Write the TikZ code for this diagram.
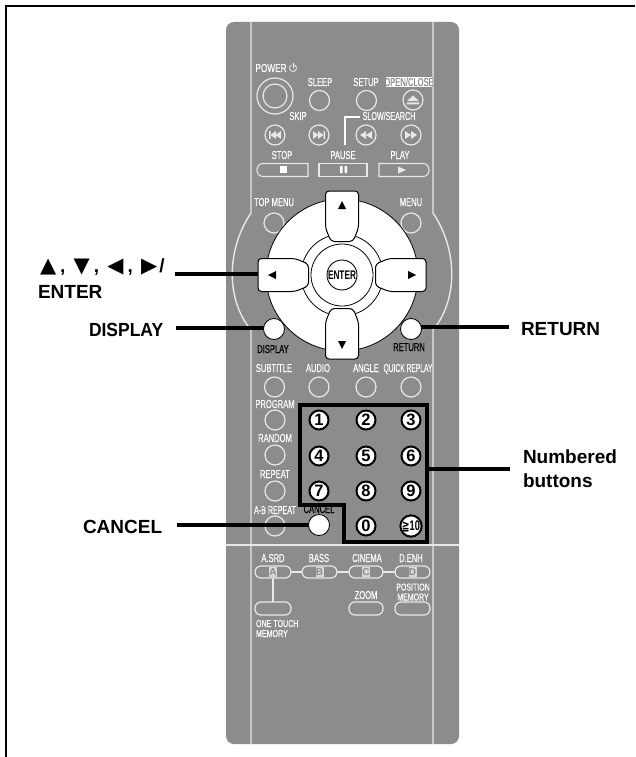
\documentclass[tikz,border=0pt]{standalone}
\usepackage{fontspec}
\setmainfont{Liberation Sans}
\newfontfamily\symfont{DejaVu Sans}
\newfontfamily\remfont[FakeBold=0.35]{Liberation Sans}
\definecolor{body}{HTML}{8C8C8C}
\definecolor{rline}{HTML}{E8E8E8}
\newcommand\rt[1]{\scalebox{.66}[1]{#1}}
\newcommand\rn[1]{\scalebox{.58}[1]{#1}}
\tikzset{
  frameline/.style={line width=2pt,black},
  leader/.style={line width=3.6pt,black},
  rlab/.style={inner sep=0pt,outer sep=0pt,anchor=base,text=white,font=\fontsize{11.5}{11.5}\selectfont\remfont},
  blab/.style={rlab,text=black},
  biglab/.style={inner sep=0pt,outer sep=0pt,anchor=base west,text=black,font=\fontsize{19}{19}\selectfont\bfseries},
  ring/.style={circle,draw=rline,line width=1.2pt,minimum size=20pt,inner sep=0pt},
  whitebtn/.style={circle,draw=black,fill=white,line width=.8pt,minimum size=21pt,inner sep=0pt},
  numbtn/.style={circle,draw=black,fill=white,line width=2pt,minimum size=19pt,inner sep=0pt,text=black,font=\fontsize{16.5}{16.5}\selectfont\bfseries},
  pill/.style={draw=rline,line width=1.2pt,rounded corners=6pt},
  rwhite/.style={draw=rline,line width=1.4pt},
  keyshape/.style={draw=black,fill=white,line width=1pt,rounded corners=3.5pt},
  letterbox/.style={fill=rline!93!black,inner sep=0pt,minimum width=8pt,minimum height=10pt,text=body,font=\fontsize{10}{10}\selectfont\bfseries},
}
\begin{document}
\begin{tikzpicture}[x=1pt,y=-1pt]
\useasboundingbox (0,0) rectangle (635,757);
\fill[white] (0,0) rectangle (635,757);
% page frame
\draw[frameline] (635,6.5) -- (6,6.5) -- (6,757);
% remote body
\fill[body,rounded corners=8pt] (226,22) rectangle (459,744);
% body lines
\draw[rwhite] (251,22) -- (251,213) .. controls (226,250) and (226,300) .. (251,330) -- (251,744);
\draw[rwhite] (433,22) -- (433,213) .. controls (458,250) and (458,300) .. (433,330) -- (433,744);
\draw[rwhite] (226,545) -- (459,545);
% top section
\node[rlab] (lPower) at (271,72) {\scalebox{.72}[1]{POWER}};
\draw[white,line width=.7pt] (294.75,65) arc[start angle=-60,end angle=240,radius=3.5];
\draw[white,line width=.7pt] (293,63) -- (293,68);
\node[circle,draw=rline,line width=1.2pt,minimum size=36pt,inner sep=0pt] (bPowerO) at (275,96) {};
\node[circle,draw=rline,line width=1.2pt,minimum size=24pt,inner sep=0pt] (bPowerI) at (275,96) {};
\node[rlab] (lSleep) at (320,86) {\rt{SLEEP}};
\node[ring] (bSleep) at (319.5,100.5) {};
\node[rlab] (lSetup) at (366,86) {\rt{SETUP}};
\node[ring] (bSetup) at (366.5,100.5) {};
\fill[white] (386,77) rectangle (432,87);
\node[rlab,text=body] (lOpen) at (409,86) {\rt{OPEN/CLOSE}};
\node[ring] (bOpen) at (413,100) {};
\fill[rline] (407,101) -- (413,95.5) -- (419,101) -- cycle (407,102.5) rectangle (419,104.5);
\node[rlab] (lSkip) at (298,120) {\rt{SKIP}};
\node[rlab] (lSlow) at (389,120) {\scalebox{.62}[1]{SLOW/SEARCH}};
\draw[white,line width=2pt] (345,145) -- (345,117) -- (360,117);
\node[ring] (bPrev) at (275,135) {};
\node[ring] (bNext) at (319,135) {};
\node[ring] (bRew) at (366,135) {};
\node[ring] (bFwd) at (411,135) {};
\fill[rline] (269,131) rectangle (270.5,139) (276,131) -- (276,139) -- (270.5,135) -- cycle (281,131) -- (281,139) -- (275.5,135) -- cycle;
\fill[rline] (325,131) rectangle (323.5,139) (318,131) -- (318,139) -- (323.5,135) -- cycle (313,131) -- (313,139) -- (318.5,135) -- cycle;
\fill[rline] (366,131) -- (366,139) -- (360,135) -- cycle (372,131) -- (372,139) -- (366,135) -- cycle;
\fill[rline] (411,131) -- (411,139) -- (417,135) -- cycle (405,131) -- (405,139) -- (411,135) -- cycle;
\node[rlab] (lStop) at (282,159) {\rt{STOP}};
\node[rlab] (lPause) at (343,159) {\rt{PAUSE}};
\node[rlab] (lPlay) at (400,159) {\rt{PLAY}};
\draw[rwhite,line width=1.1pt] (308,163.5) -- (263,163.5) .. controls (255,163.5) and (255,176.5) .. (263,176.5) -- (308,176.5) -- cycle;
\draw[rwhite,line width=1.1pt] (319,163.5) rectangle (367,176.5);
\draw[rwhite,line width=1.1pt] (379,163.5) -- (423,163.5) .. controls (431,163.5) and (431,176.5) .. (423,176.5) -- (379,176.5) -- cycle;
\fill[white] (280,166) rectangle (287,173);
\fill[white] (340,166) rectangle (342.5,173) (344.5,166) rectangle (347,173);
\fill[rline] (398,166.5) -- (398,173.5) -- (406,170) -- cycle;
% D-pad
\node[rlab] (lTop) at (274,206) {\rt{TOP MENU}};
\node[rlab] (lMenu) at (411,206) {\rt{MENU}};
\node[ring] (bTop) at (274,223) {};
\node[ring] (bMenu) at (411,223) {};
\coordinate (endArrow) at (175,274);
\coordinate (endDisplay) at (176,328);
\coordinate (endReturn) at (509,327);
\coordinate (endNum) at (510,469);
\coordinate (endCancel) at (177,525);
\node[circle,draw=black,fill=white,line width=.8pt,minimum size=152pt,inner sep=0pt] (dpad) at (342,275) {};
\node[circle,draw=black,line width=.8pt,minimum size=82pt,inner sep=0pt] (ring1) at (342,275) {};
\node[circle,draw=black,line width=.8pt,minimum size=62pt,inner sep=0pt] (ring2) at (342,275) {};
\node[circle,draw=black,line width=.9pt,minimum size=30pt,inner sep=0pt,font=\fontsize{12.5}{12.5}\selectfont\bfseries] (bEnter) at (342,275) {\rt{ENTER}};
\foreach \a in {0,90,180,270}{
  \begin{scope}[rotate around={\a:(342,275)}]
    \draw[keyshape] (325.5,191) -- (358.5,191) -- (358.5,228) -- (353,241.5) -- (331,241.5) -- (325.5,228) -- cycle;
    \fill[black] (338,209) -- (346,209) -- (342,201) -- cycle;
  \end{scope}
}
\coordinate (keyLeft) at (258,274);
\draw[leader] (endArrow) -- (keyLeft);
\draw[leader] (endDisplay) -- (274,328);
\draw[leader] (endReturn) -- (411,327);
\node[whitebtn] (bDisplay) at (274,329) {};
\node[whitebtn] (bReturn) at (411,329) {};
\node[blab] (lDisp) at (273,353) {\rt{DISPLAY}};
\node[blab] (lRet) at (409,351) {\rt{RETURN}};
% row of four
\node[rlab] (lSub) at (274,372) {\rt{SUBTITLE}};
\node[rlab] (lAudio) at (318,372) {\rt{AUDIO}};
\node[rlab] (lAngle) at (366,372) {\rt{ANGLE}};
\node[rlab] (lQuick) at (408,372) {\rn{QUICK REPLAY}};
\foreach \n/\x in {bSub/274.5,bAudio/319,bAngle/366,bQuick/411}{
  \node[ring] (\n) at (\x,387) {};
}
% left column
\node[rlab] (lProg) at (275,408) {\rt{PROGRAM}};
\node[rlab] (lRand) at (275,442) {\rt{RANDOM}};
\node[rlab] (lRep) at (275,478) {\rt{REPEAT}};
\node[rlab] (lAB) at (275,514) {\scalebox{.62}[1]{A-B REPEAT}};
\foreach \n/\y in {bProg/420,bRand/455,bRep/491,bAB/526}{
  \node[ring] (\n) at (275,\y) {};
}
% numbered buttons
\draw[line width=3.6pt,black,miter limit=10] (300,405) -- (427,405) -- (427,542) -- (344,542) -- (344,505) -- (300,505) -- cycle;
\draw[leader] (endNum) -- (427,469);
\foreach \t/\x/\y in {1/319/420,2/366/420,3/411/420,4/319/456,5/366/456,6/411/456,7/319/491,8/366/491,9/411/491,0/366/526}{
  \node[numbtn] (n\t) at (\x,\y) {\t};
}
\node[numbtn,font=\fontsize{14}{14}\selectfont\bfseries] (nTen) at (411,526) {\rt{{\symfont ≧}10}};
\node[blab] (lCan) at (319,513) {\rt{CANCEL}};
\draw[leader] (endCancel) -- (319,525);
\node[whitebtn] (bCancel) at (319,525) {};
% bottom section
\node[rlab] (lASRD) at (273,562) {\rt{A.SRD}};
\node[rlab] (lBass) at (319,562) {\rt{BASS}};
\node[rlab] (lCin) at (367,562) {\rt{CINEMA}};
\node[rlab] (lDenh) at (411,562) {\rt{D.ENH}};
\draw[rwhite] (291,572) -- (395,572);
\draw[rwhite,line width=1.8pt] (273,578) -- (273,602);
\foreach \n/\a/\b/\yy/\yz in {pA/255/291/566/578,pB/302/337/566/578,pC/349/383/566/578,pD/395/430/566/578,pO/255/291/602/615,pZ/349/383/602/615,pM/395/430/602/615}{
  \fill[body,pill] (\a,\yy) rectangle (\b,\yz);
}
\node[letterbox] (kA) at (273,572) {A};
\node[letterbox] (kB) at (319.5,572) {B};
\node[letterbox] (kC) at (366,572) {C};
\node[letterbox] (kD) at (412.5,572) {D};
\node[rlab] (lZoom) at (366,599) {\rt{ZOOM}};
\node[rlab,font=\fontsize{10}{10}\selectfont\remfont] (lPos1) at (413,590.5) {\scalebox{.7}[1]{POSITION}};
\node[rlab,font=\fontsize{10}{10}\selectfont\remfont] (lPos2) at (413,600.5) {\scalebox{.7}[1]{MEMORY}};
\node[rlab,font=\fontsize{10}{10}\selectfont\remfont,anchor=base west] (lOne1) at (256,627) {\scalebox{.71}[1]{ONE TOUCH}};
\node[rlab,font=\fontsize{10}{10}\selectfont\remfont,anchor=base west] (lOne2) at (256,637) {\scalebox{.71}[1]{MEMORY}};
% callout labels
\newcommand\bigsym[1]{{\fontsize{21}{21}\selectfont\symfont #1}}
\node[biglab] (tArrows) at (40,272) {\bigsym{▲}\kern4pt,\kern8.3pt\bigsym{▼}\kern4pt,\kern8.3pt\bigsym{◀}\kern4pt,\kern8.3pt\bigsym{▶}\kern2pt/};
\node[biglab] (tEnter) at (38,298) {ENTER};
\node[biglab] (tDisplay) at (89,336) {\scalebox{.92}[1]{DISPLAY}};
\node[biglab] (tReturn) at (521,335) {RETURN};
\node[biglab] (tNum1) at (523,463) {Numbered};
\node[biglab] (tNum2) at (523,487) {buttons};
\node[biglab] (tCancel) at (83,533) {CANCEL};
\end{tikzpicture}
\end{document}
